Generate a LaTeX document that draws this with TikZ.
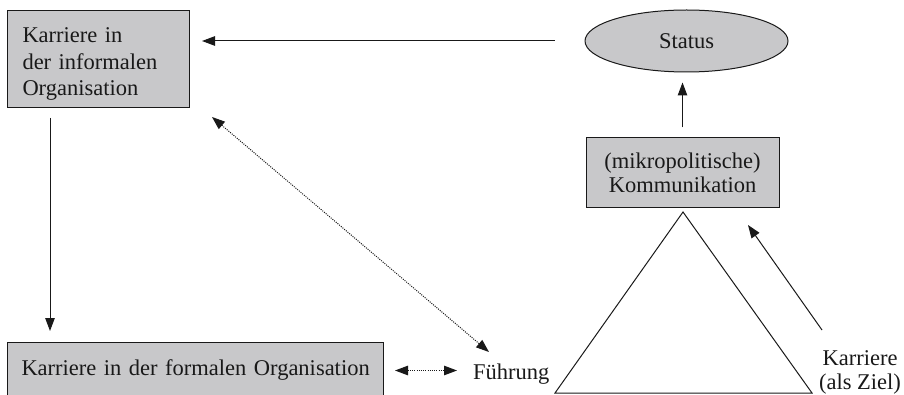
\documentclass[tikz,border=0pt]{standalone}
\usepackage{fontspec}
\setmainfont{Liberation Serif}
\usetikzlibrary{arrows.meta,calc,shapes.geometric}
\definecolor{boxgray}{RGB}{200,200,202}
\definecolor{edgegray}{RGB}{25,25,25}
\begin{document}
\begin{tikzpicture}[x=1pt,y=-1pt,
  every node/.style={font=\fontsize{22.5}{26.5}\selectfont, text=black!90},
  graybox/.style={draw=edgegray, fill=boxgray, line width=1pt, inner sep=0pt},
  grayell/.style={draw=edgegray, fill=boxgray, line width=1pt, inner sep=0pt, ellipse},
  arr/.style={line width=1pt, draw=edgegray, -{Triangle[length=13pt,width=9.5pt]}},
  dotarr/.style={line width=1pt, draw=edgegray, dash pattern=on 1pt off 1.2pt,
    {Triangle[length=13pt,width=9.5pt]}-{Triangle[length=13pt,width=9.5pt]}},
  twoline/.style={font=\fontsize{22.5}{24}\selectfont}
]
\useasboundingbox (0,0) rectangle (904,395);

% nodes
\node[graybox, anchor=north west, minimum width=182pt, minimum height=97pt,
      text width=152pt, inner xsep=15pt, align=left] (inf) at (7,10)
      {\rule{0pt}{25pt}Karriere in\\der informalen\\Organisation};
\node[graybox, anchor=north west, minimum width=376pt, minimum height=56pt,
      text width=348pt, inner xsep=14pt, align=left] (formal) at (7,342)
      {\mbox{Karriere in der formalen Organisation}};
\node[grayell, minimum width=203pt, minimum height=62pt] (status) at (686.5,41) {Status};
\node[graybox, twoline, minimum width=193pt, minimum height=70pt, align=center] (komm) at (682.5,173)
      {(mikropolitische)\\Kommunikation};
\node[inner sep=0pt, anchor=base west] (fuehr) at (473,379) {Führung};
\node[inner sep=0pt, twoline, align=center, anchor=north] (ziel) at (860,350) {Karriere\\(als Ziel)};

% triangle
\draw[line width=1pt, edgegray] (683,212) -- (555,393) -- (812,393) -- cycle;

% free ends
\coordinate (d1) at (212,117);
\coordinate (d2) at (489,352);
\coordinate (k1) at (822,330);
\coordinate (k2) at (748,225);

% connectors
\draw[arr, shorten <=30pt, shorten >=12pt] (status.west) -- (inf.east |- status.west);
\draw[arr, shorten <=10pt, shorten >=10pt] (komm.north) -- (komm.north |- status.south);
\draw[arr, shorten <=10pt, shorten >=11pt] ($(inf.south west)+(43,0)$) -- ($(formal.north west)+(43,0)$);
\draw[dotarr] (d1) -- (d2);
\draw[dotarr, shorten <=11pt, shorten >=16pt] (formal.east) -- (formal.east -| fuehr.west);
\draw[arr] (k1) -- (k2);
\end{tikzpicture}
\end{document}
